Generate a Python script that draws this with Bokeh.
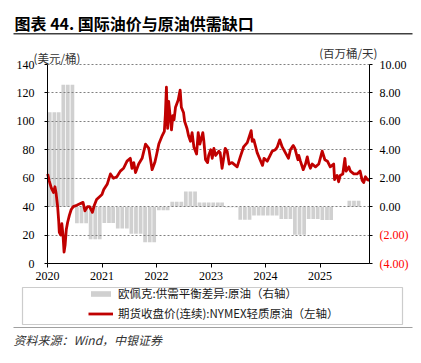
from datetime import datetime
import numpy as np
from bokeh.plotting import figure
from bokeh.models import (Range1d, LinearAxis, FixedTicker, DatetimeTickFormatter,
                          NumeralTickFormatter, Label, BoxAnnotation, Legend, LegendItem,
                          ColumnDataSource)
from bokeh.embed import file_html
from bokeh.resources import INLINE

# ---- data ----
price_dates = [
    "2020-01-02", "2020-01-13", "2020-01-27", "2020-02-10", "2020-02-20", "2020-02-28",
    "2020-03-09", "2020-03-16", "2020-03-20", "2020-03-30", "2020-04-06", "2020-04-14",
    "2020-04-21", "2020-04-28", "2020-05-06", "2020-05-15", "2020-05-27", "2020-06-08",
    "2020-06-22", "2020-07-15", "2020-08-05", "2020-08-26", "2020-09-08", "2020-09-25",
    "2020-10-09", "2020-10-28", "2020-11-10", "2020-11-25", "2020-12-15", "2020-12-31",
    "2021-01-12", "2021-02-05", "2021-02-26", "2021-03-18", "2021-04-10", "2021-05-03",
    "2021-05-25", "2021-06-17", "2021-07-09", "2021-07-20", "2021-08-01", "2021-08-13",
    "2021-09-03", "2021-09-26", "2021-10-19", "2021-11-10", "2021-12-02", "2021-12-20",
    "2021-12-31",
    "2022-01-16", "2022-02-08", "2022-02-22", "2022-03-01", "2022-03-08", "2022-03-16",
    "2022-03-23", "2022-04-11", "2022-04-20", "2022-04-28", "2022-05-08", "2022-05-26",
    "2022-06-08", "2022-06-16", "2022-07-01", "2022-07-08", "2022-07-24", "2022-08-03",
    "2022-08-16", "2022-08-27", "2022-09-08", "2022-09-26", "2022-10-07", "2022-10-18",
    "2022-11-07", "2022-11-14", "2022-11-25", "2022-12-09", "2022-12-16", "2022-12-30",
    "2023-01-09", "2023-01-20", "2023-02-01", "2023-02-22", "2023-03-03", "2023-03-16",
    "2023-04-06", "2023-04-19", "2023-05-03", "2023-05-22", "2023-06-13", "2023-06-25",
    "2023-07-16", "2023-08-07", "2023-09-01", "2023-09-27", "2023-10-04", "2023-10-15",
    "2023-11-06", "2023-12-12", "2023-12-22",
    "2024-01-13", "2024-02-01", "2024-02-15", "2024-03-07", "2024-03-20", "2024-04-05",
    "2024-04-22", "2024-05-13", "2024-06-03", "2024-06-16", "2024-06-28", "2024-07-05",
    "2024-07-16", "2024-08-05", "2024-08-11", "2024-08-22", "2024-09-10", "2024-09-25",
    "2024-10-07", "2024-10-17", "2024-10-28", "2024-11-09", "2024-12-01", "2024-12-23",
    "2025-01-15", "2025-02-02", "2025-02-19", "2025-03-10", "2025-04-02", "2025-04-08",
    "2025-04-13", "2025-04-25", "2025-05-05", "2025-05-16", "2025-06-02", "2025-06-16",
    "2025-06-24", "2025-07-01", "2025-07-13", "2025-07-23", "2025-08-15", "2025-09-06",
    "2025-09-26", "2025-10-10", "2025-10-20", "2025-11-01", "2025-11-14", "2025-11-26",
]
price_values = [
    63, 58, 53, 50, 54, 49,
    40, 30, 22, 20, 28, 20,
    8, 13, 24, 29, 34, 38,
    40, 41, 42, 43, 37, 40,
    40, 36, 41, 45, 47, 48.5,
    52, 56, 63, 60, 61, 65,
    67, 72, 74, 67, 71, 64,
    70, 74, 84, 81, 66, 71,
    76,
    84, 90, 93, 105, 124, 95,
    114, 94, 104, 101, 110, 115,
    122, 110, 106, 100, 95, 90,
    86, 92, 82, 77, 92, 84,
    92, 86, 73, 71, 76, 80,
    74, 81, 76, 79, 78, 67,
    81, 79, 70, 71, 69, 68,
    75, 82, 85, 93.5, 86, 87,
    78, 69, 74,
    72, 76, 79, 80, 82, 87,
    82, 78, 74, 80, 82, 83,
    81, 73, 76, 72, 66, 70,
    75, 70, 67, 70, 68, 70,
    79, 73, 72, 68, 70, 59,
    61, 62, 57.5, 62, 63, 74,
    65, 66, 68, 65, 63, 63,
    65, 58.5, 57, 61, 59, 58.5,
]

quarter_starts = [
    "2020-01", "2020-04", "2020-07", "2020-10",
    "2021-01", "2021-04", "2021-07", "2021-10",
    "2022-01", "2022-04", "2022-07", "2022-10",
    "2023-01", "2023-04", "2023-07", "2023-10",
    "2024-01", "2024-04", "2024-07", "2024-10",
    "2025-01", "2025-04", "2025-07",
]
balance_values = [
    6.64, 8.57, -1.17, -2.30,
    -1.15, -1.53, -1.90, -2.51,
    -0.25, 0.35, 1.06, 0.30,
    0.30, -0.05, -0.92, -0.63,
    -0.63, -0.87, -1.97, -0.87,
    -0.94, -0.03, 0.42,
]

year_labels = [2020, 2021, 2022, 2023, 2024, 2025]
left_ticks = [0, 20, 40, 60, 80, 100, 120, 140]
right_pos_ticks = [0, 2, 4, 6, 8, 10]
right_neg_ticks = [-4, -2]
left_lim = (0, 140)
right_lim = (-4, 10)

# ---- layout constants (pixels on the canvas) ----
W, H = 416, 360
PX_L, PX_R, PX_T, PX_B = 47, 369, 64, 263   # plot area edges

DAY_MS = 86400000.0
EPOCH = datetime(1970, 1, 1)

def ms(d):
    return (d - EPOCH).total_seconds() * 1000.0

x_start = datetime(2020, 1, 1)
x_end = datetime(2025, 11, 28)

def expand(lo, hi, p_lo, p_hi, total, flip=False):
    k = (hi - lo) / (p_hi - p_lo)
    if flip:   # vertical: p_lo is the top pixel of hi, p_hi the bottom pixel of lo
        return lo - (total - p_hi) * k, hi + p_lo * k
    return lo - p_lo * k, hi + (total - p_hi) * k

xr = expand(ms(x_start), ms(x_end), PX_L, PX_R, W)
yr = expand(left_lim[0], left_lim[1], PX_T, PX_B, H, flip=True)
yr2 = expand(right_lim[0], right_lim[1], PX_T, PX_B, H, flip=True)

def sy(page_y):
    return H - page_y

# ---- derived sources ----
bar_x, bar_top = [], []
for qs, v in zip(quarter_starts, balance_values):
    y, m = int(qs[:4]), int(qs[5:])
    for k in range(3):
        bar_x.append(ms(datetime(y, m + k, 1)) + 15 * DAY_MS)
        bar_top.append(v)
bar_src = ColumnDataSource(dict(x=bar_x, top=bar_top))
line_src = ColumnDataSource(dict(
    x=np.array(price_dates, dtype="datetime64[ms]"), y=price_values))

p = figure(width=W, height=H, output_backend="svg", toolbar_location=None,
           x_axis_type="datetime",
           x_range=Range1d(*xr), y_range=Range1d(*yr),
           min_border=0, min_border_left=0, min_border_right=0,
           min_border_top=0, min_border_bottom=0)
p.outline_line_color = None
p.background_fill_color = "white"
p.border_fill_color = "white"
p.extra_y_ranges = {"right": Range1d(*yr2)}

SERIF = "Liberation Serif"
CJK = "Noto Sans CJK SC"

# grid
p.xgrid.visible = False
p.ygrid.grid_line_color = "#808080"
p.ygrid.grid_line_dash = "2 2"
p.ygrid.grid_line_width = 1
p.ygrid.bounds = left_lim
try:
    p.ygrid.cross_bounds = (ms(x_start), ms(x_end))
except Exception:
    pass

# bars (right axis)
bars = p.vbar(x="x", top="top", bottom=0, width=25 * DAY_MS, source=bar_src,
              y_range_name="right", fill_color="#d0d0d0", line_color=None)
bars.level = "image"

# price line (left axis)
line = p.line(x="x", y="y", source=line_src, line_color="#c00000", line_width=2.8,
              line_join="round")

def style_axis(ax):
    ax.axis_line_color = "black"
    ax.axis_line_width = 1
    ax.major_tick_in = 0
    ax.major_tick_out = 3
    ax.major_tick_line_color = "black"
    ax.minor_tick_line_color = None
    ax.major_label_text_font = SERIF
    ax.major_label_text_font_size = "12px"
    ax.major_label_text_color = "black"

# left axis
ly = p.yaxis[0]
ly.ticker = FixedTicker(ticks=left_ticks)
ly.fixed_location = ms(x_start)
ly.bounds = left_lim
style_axis(ly)
ly.major_label_standoff = 10

# bottom axis
bx = p.xaxis[0]
bx.ticker = FixedTicker(ticks=[ms(datetime(y, 1, 1)) for y in year_labels])
bx.formatter = DatetimeTickFormatter(years="%Y", months="%Y", days="%Y",
                                     hours="%Y", minutes="%Y", seconds="%Y")
bx.fixed_location = 0
bx.bounds = (ms(x_start), ms(x_end))
style_axis(bx)
bx.major_tick_out = 4
bx.major_label_standoff = 4

# right axis (positive, black)
ry = LinearAxis(y_range_name="right", ticker=FixedTicker(ticks=right_pos_ticks),
                formatter=NumeralTickFormatter(format="(0.00)"),
                fixed_location=ms(x_end), bounds=right_lim)
style_axis(ry)
ry.major_label_standoff = 7
p.add_layout(ry, "right")

# right axis (negative, red labels)
ry2 = LinearAxis(y_range_name="right", ticker=FixedTicker(ticks=right_neg_ticks),
                 formatter=NumeralTickFormatter(format="(0.00)"),
                 fixed_location=ms(x_end), bounds=(right_lim[0], 0))
style_axis(ry2)
ry2.axis_line_color = None
ry2.major_label_standoff = 7
ry2.major_label_text_color = "#ff0000"
p.add_layout(ry2, "right")

# legend
legend = Legend(items=[
    LegendItem(label="欧佩克:供需平衡差异:原油（右轴）", renderers=[bars]),
    LegendItem(label="期货收盘价(连续):NYMEX轻质原油（左轴）", renderers=[line]),
], location=(88, sy(321)), border_line_alpha=0, background_fill_alpha=0,
    padding=0, margin=0, glyph_width=25, glyph_height=7, label_height=14,
    spacing=4, label_standoff=5, label_text_font=CJK,
    label_text_font_size="11.5px", label_text_color="#1a1a1a")
p.add_layout(legend, "center")

def box(l, r, t, b, **kw):
    return BoxAnnotation(left=l, right=r, top=sy(t), bottom=sy(b),
                         left_units="screen", right_units="screen",
                         top_units="screen", bottom_units="screen", **kw)

# legend frame
p.add_layout(box(22, 402, 287, 324, fill_alpha=0, line_color="#555555",
                 line_width=1.2))
# rule under the title and above the source line
p.add_layout(box(13, 412, 32.5, 34, fill_color="#404040", fill_alpha=1,
                 line_color=None))
p.add_layout(box(13, 412, 326.5, 327.5, fill_color="#a0a0a0", fill_alpha=1,
                 line_color=None))

# title
p.add_layout(Label(x=14, y=sy(22), x_units="screen", y_units="screen",
                   text="图表 44. 国际油价与原油供需缺口", text_font=CJK,
                   text_font_size="16px", text_font_style="bold",
                   text_color="black", text_baseline="middle"))
# unit labels
p.add_layout(Label(x=33, y=sy(57), x_units="screen", y_units="screen",
                   text="(美元/桶)", text_font=CJK, text_font_size="11.5px",
                   text_color="#333333", text_baseline="middle"))
p.add_layout(Label(x=377, y=sy(52), x_units="screen", y_units="screen",
                   text="(百万桶/天)", text_font=CJK, text_font_size="11.5px",
                   text_color="#333333", text_baseline="middle", text_align="right"))
# footer
p.add_layout(Label(x=13, y=sy(339), x_units="screen", y_units="screen",
                   text="资料来源：Wind，中银证券", text_font=CJK,
                   text_font_size="12px", text_font_style="italic",
                   text_color="#333333", text_baseline="middle"))

open("out.html", "w").write(file_html(p, INLINE))
